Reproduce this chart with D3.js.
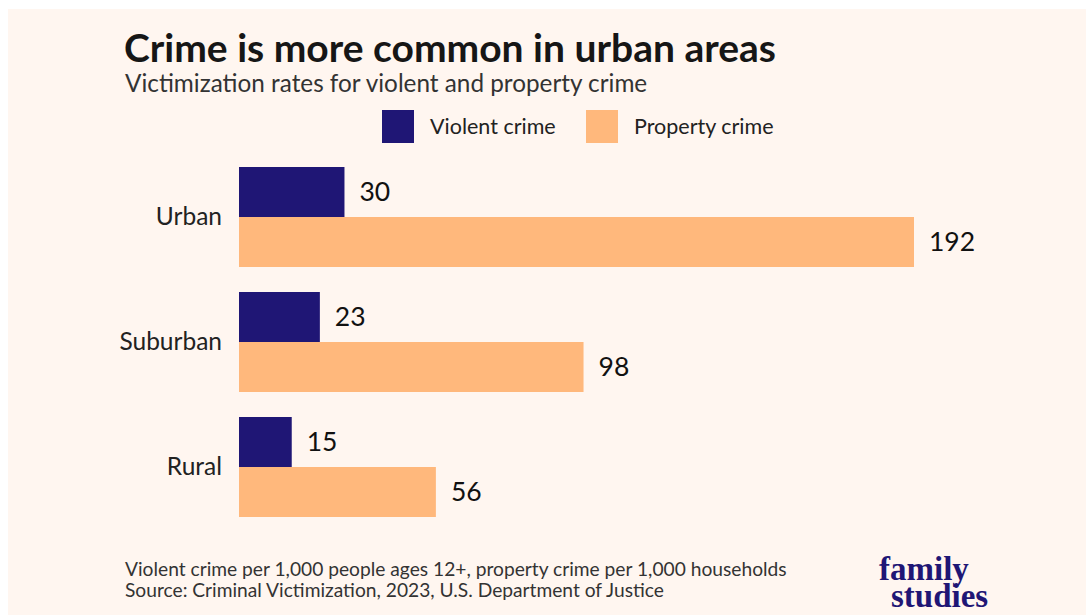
<!DOCTYPE html>
<html>
<head>
<meta charset="utf-8">
<script src="https://cdn.jsdelivr.net/npm/d3@7"></script>
<style>
  html, body { margin: 0; padding: 0; background: #ffffff; }
  svg text { font-family: Lato, "Open Sans", sans-serif; }
</style>
</head>
<body>
<div id="chart"></div>
<script>
// data
const categories = ['Urban', 'Suburban', 'Rural'];
const seriesNames = ['Violent crime', 'Property crime'];
const violent = [30, 23, 15];
const property = [192, 98, 56];
const colors = ['#1f1675', '#ffb87c'];

const width = 1086, height = 615;

const svg = d3.select('#chart').append('svg')
    .attr('width', width)
    .attr('height', height);

// cream panel
svg.append('rect')
    .attr('x', 8).attr('y', 9)
    .attr('width', width - 8).attr('height', height - 9)
    .attr('fill', '#fff6f0');

// titles
svg.append('text')
    .attr('x', 124).attr('y', 62)
    .style('font-size', '39px').style('font-weight', 700)
    .style('fill', '#161616')
    .text('Crime is more common in urban areas');

svg.append('text')
    .attr('x', 125).attr('y', 92)
    .style('font-size', '24.3px')
    .style('fill', '#333333')
    .text('Victimization rates for violent and property crime');

// legend
const legendPos = [382, 586];
const legend = svg.append('g').attr('class', 'legend');
seriesNames.forEach((name, i) => {
    legend.append('rect')
        .attr('x', legendPos[i]).attr('y', 110)
        .attr('width', 32).attr('height', 33)
        .attr('fill', colors[i]);
    legend.append('text')
        .attr('x', legendPos[i] + 48).attr('y', 134)
        .style('font-size', '21.5px')
        .style('fill', '#222')
        .text(name);
});

// scales
const x = d3.scaleLinear().domain([0, 192]).range([239, 914]);
const y = d3.scaleBand().domain(categories).range([167, 517]).paddingInner(0.2).paddingOuter(0);
const sub = d3.scaleBand().domain(seriesNames).range([0, y.bandwidth()]);

const rows = categories.map((c, i) => ({ cat: c, values: [violent[i], property[i]] }));

const groups = svg.append('g').attr('class', 'bars')
    .selectAll('g').data(rows).enter()
    .append('g')
    .attr('transform', d => `translate(0, ${y(d.cat)})`);

groups.selectAll('rect')
    .data(d => d.values.map((v, i) => ({ name: seriesNames[i], value: v, i })))
    .enter().append('rect')
    .attr('x', x(0))
    .attr('y', d => sub(d.name))
    .attr('width', d => x(d.value) - x(0))
    .attr('height', sub.bandwidth())
    .attr('fill', d => colors[d.i]);

groups.selectAll('text.value')
    .data(d => d.values.map((v, i) => ({ name: seriesNames[i], value: v })))
    .enter().append('text')
    .attr('class', 'value')
    .attr('x', d => x(d.value) + 15)
    .attr('y', d => sub(d.name) + sub.bandwidth() / 2)
    .attr('dy', '0.35em')
    .style('font-size', '26.5px')
    .style('fill', '#111')
    .text(d => d.value);

// category axis
const yAxis = d3.axisLeft(y).tickSize(0).tickPadding(17);
const axisG = svg.append('g')
    .attr('transform', `translate(${x(0)}, 0)`)
    .call(yAxis);
axisG.select('.domain').remove();
axisG.selectAll('text')
    .style('font-size', '24.5px')
    .style('font-family', 'Lato, sans-serif')
    .style('fill', '#222');

// footer
svg.append('text')
    .attr('x', 125).attr('y', 576)
    .style('font-size', '19.2px').style('fill', '#333')
    .text('Violent crime per 1,000 people ages 12+, property crime per 1,000 households');
svg.append('text')
    .attr('x', 125).attr('y', 597)
    .style('font-size', '19.2px').style('fill', '#333')
    .text('Source: Criminal Victimization, 2023, U.S. Department of Justice');

// logo
const logoFont = '"Liberation Serif", "DejaVu Serif", serif';
svg.append('text')
    .attr('x', 879).attr('y', 580)
    .style('font-family', logoFont)
    .style('font-size', '33px').style('font-weight', 700)
    .style('fill', '#1f1675')
    .text('family');
svg.append('text')
    .attr('x', 891).attr('y', 607)
    .style('font-family', logoFont)
    .style('font-size', '33px').style('font-weight', 700)
    .style('fill', '#1f1675')
    .text('studies');
</script>
</body>
</html>
